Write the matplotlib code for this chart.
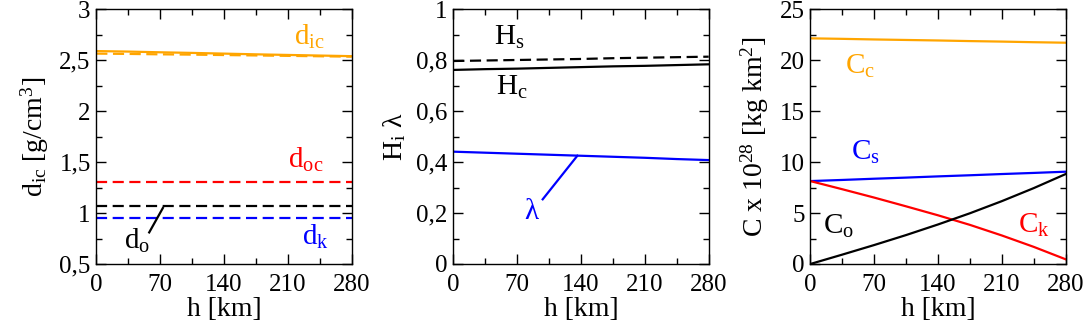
import numpy as np
import matplotlib
matplotlib.use('Agg')
import matplotlib.pyplot as plt
from matplotlib.ticker import MultipleLocator, FuncFormatter

plt.rcParams['font.family'] = ['Liberation Serif', 'DejaVu Serif']
plt.rcParams['mathtext.fontset'] = 'custom'
plt.rcParams['mathtext.rm'] = 'Liberation Serif'
plt.rcParams['mathtext.it'] = 'Liberation Serif:italic'

# ---------------- data ----------------
h = [0, 35, 70, 105, 140, 175, 210, 245, 280]

# panel 1: densities
d_ic = [2.59, 2.585, 2.578, 2.572, 2.565, 2.558, 2.552, 2.546, 2.54]
d_ic_dash = [2.565, 2.562, 2.558, 2.555, 2.551, 2.547, 2.543, 2.539, 2.535]
d_oc = [1.305] * 9
d_o = [1.07] * 9
d_k = [0.95] * 9

# panel 2: H_s, H_c, lambda
H_s = [0.797, 0.799, 0.801, 0.803, 0.805, 0.808, 0.810, 0.812, 0.814]
H_c = [0.762, 0.765, 0.767, 0.770, 0.773, 0.776, 0.778, 0.781, 0.784]
lam = [0.441, 0.437, 0.433, 0.429, 0.425, 0.421, 0.417, 0.412, 0.408]

# panel 3: moments of inertia
C_c = [22.15, 22.10, 22.04, 21.99, 21.94, 21.88, 21.83, 21.77, 21.72]
C_s = [8.14, 8.25, 8.37, 8.48, 8.60, 8.71, 8.83, 8.94, 9.06]
C_k = [8.14, 7.34, 6.52, 5.66, 4.78, 3.84, 2.80, 1.68, 0.46]
C_o = [0.0, 0.92, 1.86, 2.84, 3.88, 4.98, 6.17, 7.45, 8.83]

orange = '#ffa500'
dash = (0, (5, 2.5))
lw = 1.6
fs_tick = 18
fs_lab = 20
fs_txt = 21


def comma(v, pos):
    s = ('%g' % v)
    return s.replace('.', ',')


def lab(base, sub):
    # subscript in upright serif like the original
    return base + r'$_{\mathrm{' + sub + '}}$'


fig = plt.figure(figsize=(10.87, 3.27), dpi=100)
W, H = 1087, 327
lefts = [96.3, 453.3, 810.3]
axs = [fig.add_axes([l / W, 63 / H, 255.4 / W, 254.7 / H]) for l in lefts]

for ax in axs:
    ax.set_xlim(0, 280)
    ax.xaxis.set_major_locator(MultipleLocator(70))
    ax.xaxis.set_minor_locator(MultipleLocator(35))
    ax.tick_params(which='both', direction='in', top=True, right=True,
                   labelsize=fs_tick)
    ax.tick_params(axis='x', pad=7)
    ax.tick_params(axis='y', pad=4)
    ax.tick_params(which='major', length=7.5, width=1)
    ax.tick_params(which='minor', length=4.5, width=1)
    ax.yaxis.set_major_formatter(FuncFormatter(comma))
    ax.set_xlabel('h [km]', fontsize=fs_lab, labelpad=1)
    for s in ax.spines.values():
        s.set_linewidth(1)

# ---- panel 1 ----
ax = axs[0]
ax.plot(h, d_ic, color=orange, lw=lw)
ax.plot(h, d_ic_dash, color=orange, lw=lw, linestyle=dash)
ax.plot(h, d_oc, color='red', lw=lw, linestyle=dash)
ax.plot(h, d_o, color='black', lw=lw, linestyle=dash)
ax.plot(h, d_k, color='blue', lw=lw, linestyle=dash)
ax.set_ylim(0.5, 3)
ax.yaxis.set_major_locator(MultipleLocator(0.5))
ax.yaxis.set_minor_locator(MultipleLocator(0.25))
ax.set_ylabel(lab('d', 'ic') + r' [g/cm$^{3}$]', fontsize=fs_lab, labelpad=6)
ax.text(234, 2.73, lab('d', 'ic'), color=orange, fontsize=fs_txt, ha='center', va='center')
ax.text(230, 1.52, lab('d', 'oc'), color='red', fontsize=fs_txt, ha='center', va='center')
ax.text(240, 0.77, lab('d', 'k'), color='blue', fontsize=fs_txt, ha='center', va='center')
ax.text(45, 0.73, lab('d', 'o'), color='black', fontsize=fs_txt, ha='center', va='center')
ax.plot([58, 73], [0.81, 1.05], color='black', lw=lw)

# ---- panel 2 ----
ax = axs[1]
ax.plot(h, H_s, color='black', lw=lw, linestyle=dash)
ax.plot(h, H_c, color='black', lw=lw)
ax.plot(h, lam, color='blue', lw=lw)
ax.set_ylim(0, 1)
ax.yaxis.set_major_locator(MultipleLocator(0.2))
ax.yaxis.set_minor_locator(MultipleLocator(0.1))
ax.set_ylabel(lab('H', 'i') + ' λ', fontsize=fs_lab, labelpad=6)
ax.text(61, 0.89, lab('H', 's'), color='black', fontsize=fs_txt, ha='center', va='center')
ax.text(64, 0.695, lab('H', 'c'), color='black', fontsize=fs_txt, ha='center', va='center')
ax.text(86, 0.205, 'λ', color='blue', fontsize=fs_txt, ha='center', va='center')
ax.plot([98, 136], [0.254, 0.425], color='blue', lw=lw)

# ---- panel 3 ----
ax = axs[2]
ax.plot(h, C_c, color=orange, lw=lw)
ax.plot(h, C_s, color='blue', lw=lw)
ax.plot(h, C_k, color='red', lw=lw)
ax.plot(h, C_o, color='black', lw=lw)
ax.set_ylim(0, 25)
ax.yaxis.set_major_locator(MultipleLocator(5))
ax.yaxis.set_minor_locator(MultipleLocator(2.5))
ax.set_ylabel(r'C x 10$^{28}$ [kg km$^{2}$]', fontsize=fs_lab, labelpad=6)
ax.text(55, 19.4, lab('C', 'c'), color=orange, fontsize=fs_txt, ha='center', va='center')
ax.text(61, 11.0, lab('C', 's'), color='blue', fontsize=fs_txt, ha='center', va='center')
ax.text(31, 3.7, lab('C', 'o'), color='black', fontsize=fs_txt, ha='center', va='center')
ax.text(245, 3.8, lab('C', 'k'), color='red', fontsize=fs_txt, ha='center', va='center')

fig.savefig('out.png', dpi=100)
